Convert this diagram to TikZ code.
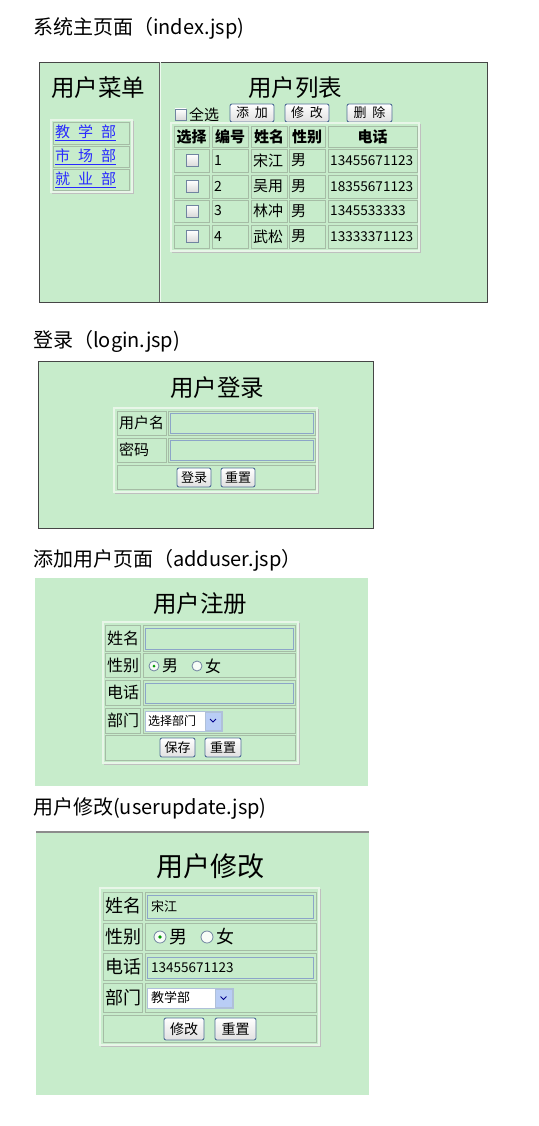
\documentclass[tikz,border=0pt]{standalone}
\usepackage{fontspec}
\setmainfont{Noto Sans CJK SC}
\definecolor{pbg}{RGB}{199,236,203}
\definecolor{cellb}{RGB}{165,188,165}
\definecolor{celll}{RGB}{232,246,232}
\definecolor{inpb}{RGB}{140,165,200}
\definecolor{btnb}{RGB}{80,110,150}
\definecolor{linkc}{RGB}{40,40,255}
\definecolor{panelb}{RGB}{70,70,70}
\definecolor{selarr}{RGB}{185,205,245}
\newcommand\fsz[1]{\fontsize{#1}{#1}\selectfont}
\tikzset{
 panel/.style={fill=pbg, draw=panelb, line width=0.8pt},
 cellbox/.style={draw=cellb, line width=0.9pt},
 tblbox/.style={draw=celll, line width=1.6pt},
 inbox/.style={draw=inpb, line width=0.9pt, fill=pbg},
 btnbox/.style={draw=btnb, line width=0.9pt, rounded corners=2pt, top color=white, bottom color=black!12, inner sep=0pt},
 chkbox/.style={draw=inpb!80!black, line width=0.8pt, top color=white, bottom color=black!15},
 txt/.style={inner sep=0pt},
 head/.style={inner sep=0pt, anchor=west, font=\fsz{20}},
 ttl/.style={inner sep=0pt, font=\fsz{23.5}},
}
\newcommand\tblr[4]{\draw[tblbox] (#1,#2) rectangle (#3,#4);
  \draw[black!25, line width=0.8pt] (#3+1.2,#2+1) -- (#3+1.2,#4+1.2) -- (#1+1,#4+1.2);}
\begin{document}
\begin{tikzpicture}[x=1pt,y=-1pt]
\useasboundingbox[fill=white] (0,0) rectangle (538,1126);

% ================= index =================
\node[head] (h1) at (33,28) {系统主页面（index.jsp)};
\draw[panel] (39,62) rectangle (487,302);
\draw[panelb!85, line width=1pt] (159,62) -- (159,302);
\draw[white!70!pbg, line width=1pt] (160.5,62) -- (160.5,302);
\node[ttl] (menut) at (98,88) {用户菜单};
\tblr{51}{120}{132}{192}
\foreach \ya/\yb in {122/144,146/167,169/190}{\draw[cellbox] (53,\ya) rectangle (129,\yb);}
\node[txt, anchor=west, text=linkc, font=\fsz{15}] (m1) at (55,133) {\underline{教\hspace{8pt}学\hspace{8pt}部}};
\node[txt, anchor=west, text=linkc, font=\fsz{15}] (m2) at (55,156.5) {\underline{市\hspace{8pt}场\hspace{8pt}部}};
\node[txt, anchor=west, text=linkc, font=\fsz{15}] (m3) at (55,179.5) {\underline{就\hspace{8pt}业\hspace{8pt}部}};

\node[ttl] (listt) at (295,88) {用户列表};
\draw[chkbox] (175,109) rectangle (186,120);
\node[txt, anchor=west, font=\fsz{15}] (all) at (189,114.5) {全选};
\node[btnbox, minimum width=44pt, minimum height=18pt, font=\fsz{13}] (badd) at (252,113) {添\hspace{6pt}加};
\node[btnbox, minimum width=44pt, minimum height=18pt, font=\fsz{13}] (bmod) at (307,113) {修\hspace{6pt}改};
\node[btnbox, minimum width=45pt, minimum height=18pt, font=\fsz{13}] (bdel) at (369.5,113) {删\hspace{6pt}除};
\tblr{171}{123}{419}{251}
\foreach \ya/\yb in {126/147,149/172,175/198,200/222,225/248}{
  \foreach \xa/\xb in {174/209,212/248,251/287,289/325,328/417}{
    \draw[cellbox] (\xa,\ya) rectangle (\xb,\yb);}}
\foreach \xc/\t/\k in {191.5/选择/a,230/编号/b,269/姓名/c,307/性别/d,372.5/电话/e}{
  \node[txt, font=\fsz{15}\bfseries] (hd\k) at (\xc,136.5) {\t};}
\foreach \yc/\n/\nm/\ph in {160.5/1/宋江/13455671123,186.5/2/吴用/18355671123,211/3/林冲/1345533333,236.5/4/武松/13333371123}{
  \draw[chkbox] (186,\yc-6) rectangle (198,\yc+6);
  \node[txt, anchor=west, font=\fsz{14}] (id\n) at (214,\yc) {\n};
  \node[txt, anchor=west, font=\fsz{15}] (nm\n) at (253,\yc) {\nm};
  \node[txt, anchor=west, font=\fsz{15}] (sx\n) at (291,\yc) {男};
  \node[txt, anchor=west, font=\fsz{13.6}] (ph\n) at (330,\yc) {\ph};
}

% ================= login =================
\node[head] (h2) at (33,341) {登录（login.jsp)};
\draw[panel] (38,361) rectangle (373,528);
\node[ttl] (logt) at (217,388) {用户登录};
\tblr{114}{408}{317}{492}
\draw[cellbox] (117,411) rectangle (166,435);
\draw[cellbox] (168,411) rectangle (315,435);
\draw[cellbox] (117,438) rectangle (166,462);
\draw[cellbox] (168,438) rectangle (315,462);
\draw[cellbox] (117,465) rectangle (315,489);
\draw[inbox] (170,413) rectangle (313,433);
\draw[inbox] (170,440) rectangle (313,460);
\node[txt, anchor=west, font=\fsz{15}] (lu) at (119,423) {用户名};
\node[txt, anchor=west, font=\fsz{15}] (lp) at (119,450) {密码};
\node[btnbox, minimum width=34pt, minimum height=19pt, font=\fsz{13}] (blog) at (194,477.5) {登录};
\node[btnbox, minimum width=34pt, minimum height=19pt, font=\fsz{13}] (brs1) at (238,477.5) {重置};

% ================= adduser =================
\node[head] (h3) at (33,560) {添加用户页面（adduser.jsp）};
\fill[pbg] (35,578) rectangle (368,786);
\node[ttl] (addt) at (200,604) {用户注册};
\tblr{103}{622}{298}{763}
\foreach \ya/\yb in {625/651,653/677,680/705,708/733}{
  \draw[cellbox] (105,\ya) rectangle (140,\yb);
  \draw[cellbox] (143,\ya) rectangle (295,\yb);}
\draw[cellbox] (105,735) rectangle (295,760);
\draw[inbox] (145,628) rectangle (293,649);
\draw[inbox] (145,683) rectangle (293,703);
\node[txt, anchor=west, font=\fsz{16}] (an) at (107,638) {姓名};
\node[txt, anchor=west, font=\fsz{16}] (as) at (107,665) {性别};
\node[txt, anchor=west, font=\fsz{16}] (ap) at (107,692.5) {电话};
\node[txt, anchor=west, font=\fsz{16}] (ad) at (107,720.5) {部门};
\draw[inpb!80!black, fill=white!85!pbg, line width=0.8pt] (154,666) circle (5pt);
\fill[green!60!black] (154,666) circle (1.5pt);
\node[txt, anchor=west, font=\fsz{16}] (am) at (162,666) {男};
\draw[inpb!80!black, fill=white!85!pbg, line width=0.8pt] (197,666) circle (5pt);
\node[txt, anchor=west, font=\fsz{16}] (af) at (205,666) {女};
\draw[draw=inpb!70, fill=white, line width=0.8pt] (145,711) rectangle (222,731);
\draw[draw=inpb!70, fill=selarr, line width=0.6pt] (205,712) rectangle (221,730);
\draw[blue!55!black, line width=1pt] (210,719) -- (213,722) -- (216,719);
\node[txt, anchor=west, font=\fsz{12}] (asel) at (148,721) {选择部门};
\node[btnbox, minimum width=35pt, minimum height=19pt, font=\fsz{13}] (bsave) at (177.5,747.5) {保存};
\node[btnbox, minimum width=36pt, minimum height=19pt, font=\fsz{13}] (brs2) at (223,747.5) {重置};

% ================= userupdate =================
\node[head] (h4) at (33,808) {用户修改(userupdate.jsp)};
\fill[pbg] (36,832) rectangle (369,1095);
\draw[black!45, line width=2pt] (36,832) -- (369,832);
\node[txt, font=\fsz{27}] (updt) at (210,866) {用户修改};
\tblr{100}{888}{319}{1045}
\foreach \ya/\yb in {892/920,923/950,953/980,983/1012}{
  \draw[cellbox] (103,\ya) rectangle (142,\yb);
  \draw[cellbox] (145,\ya) rectangle (316,\yb);}
\draw[cellbox] (103,1015) rectangle (316,1042);
\draw[inbox] (147,895) rectangle (313,918);
\draw[inbox] (147,957) rectangle (313,978);
\node[txt, anchor=west, font=\fsz{18}] (un) at (105,906) {姓名};
\node[txt, anchor=west, font=\fsz{18}] (us) at (105,936.5) {性别};
\node[txt, anchor=west, font=\fsz{18}] (up) at (105,966.5) {电话};
\node[txt, anchor=west, font=\fsz{18}] (ud) at (105,997.5) {部门};
\node[txt, anchor=west, font=\fsz{13}] (unv) at (151,906.5) {宋江};
\node[txt, anchor=west, font=\fsz{13.5}] (upv) at (151,967.5) {13455671123};
\draw[inpb!80!black, fill=white!85!pbg, line width=0.8pt] (160,937) circle (6pt);
\fill[green!60!black] (160,937) circle (1.8pt);
\node[txt, anchor=west, font=\fsz{18}] (um) at (169,937) {男};
\draw[inpb!80!black, fill=white!85!pbg, line width=0.8pt] (207,937) circle (6pt);
\node[txt, anchor=west, font=\fsz{18}] (uf) at (216,937) {女};
\draw[draw=inpb!70, fill=white, line width=0.8pt] (147,988) rectangle (233,1008);
\draw[draw=inpb!70, fill=selarr, line width=0.6pt] (215,989) rectangle (232,1007);
\draw[blue!55!black, line width=1pt] (220.5,996.5) -- (223.5,999.5) -- (226.5,996.5);
\node[txt, anchor=west, font=\fsz{13}] (usel) at (151,998) {教学部};
\node[btnbox, minimum width=40pt, minimum height=22pt, font=\fsz{14}] (bupd) at (184,1029) {修改};
\node[btnbox, minimum width=41pt, minimum height=22pt, font=\fsz{14}] (brs3) at (235.5,1029) {重置};
\end{tikzpicture}
\end{document}
